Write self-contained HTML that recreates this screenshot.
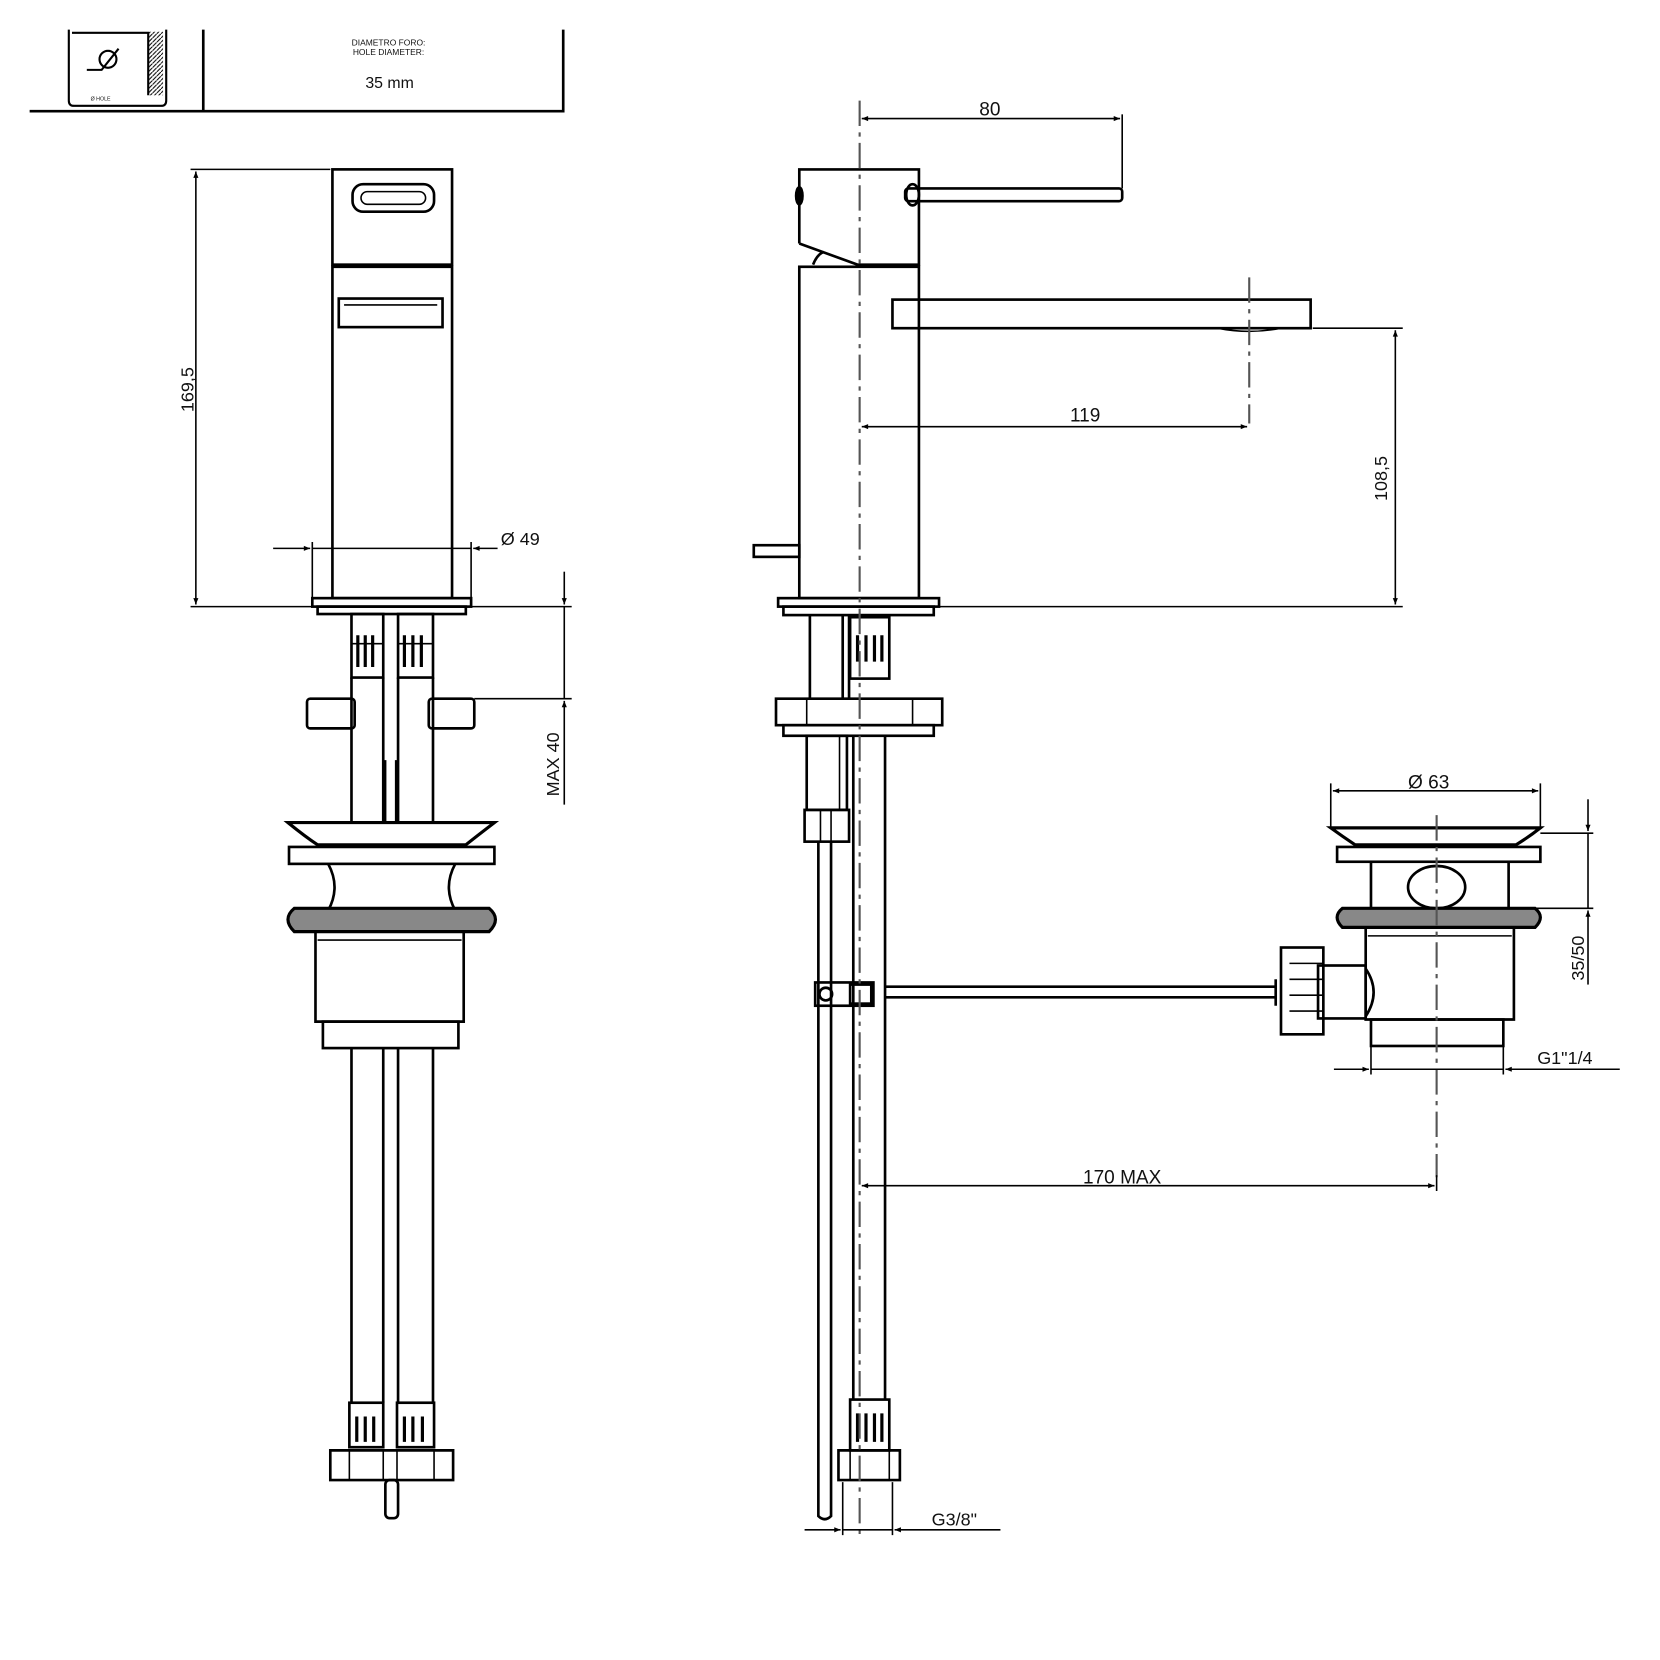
<!DOCTYPE html>
<html><head><meta charset="utf-8"><style>
html,body{margin:0;padding:0;background:#fff;width:1660px;height:1660px;overflow:hidden}
svg{display:block}
text{font-family:"Liberation Sans",sans-serif;fill:#111}
</style></head><body>
<svg width="1660" height="1660" viewBox="0 0 1568 1568" xmlns="http://www.w3.org/2000/svg">
<defs>
<marker id="a" viewBox="0 0 10 10" refX="10" refY="5" markerWidth="14" markerHeight="6" orient="auto-start-reverse" markerUnits="userSpaceOnUse"><path d="M0,1 L10,5 L0,9 z" fill="#000"/></marker>
<pattern id="h" width="4" height="4" patternUnits="userSpaceOnUse"><path d="M0,4 L4,0" stroke="#000" stroke-width="1"/></pattern>
</defs>
<g fill="none" stroke="#000" stroke-width="2.5">
<!-- top box -->
<path d="M28,105 H532 V28"/><path d="M192,28 V105"/>
<path d="M65,28 V95 Q65,100 70,100 H152 Q157,100 157,95 V28" stroke-width="2"/>
<rect x="140" y="30" width="14" height="60" fill="url(#h)" stroke="none"/>
<path d="M68,31 H140 V90" stroke-width="2"/>
<circle cx="102" cy="56" r="8" stroke-width="2"/><path d="M82,66 H96 L112,46" stroke-width="2"/>
</g>
<text x="367" y="43" font-size="8" text-anchor="middle">DIAMETRO FORO:</text>
<text x="367" y="52" font-size="8" text-anchor="middle">HOLE DIAMETER:</text>
<text x="368" y="83" font-size="15" text-anchor="middle">35 mm</text>
<text x="95" y="95" font-size="5" text-anchor="middle">Ø HOLE</text>

<!-- LEFT VIEW -->
<g fill="none" stroke="#000" stroke-width="2.5">
<rect x="314" y="160" width="113" height="90"/>
<rect x="333" y="174" width="77" height="26" rx="10"/><rect x="341" y="181" width="61" height="12" rx="6" stroke-width="1.5"/>
<rect x="314" y="252" width="113" height="313"/>
<rect x="320" y="282" width="98" height="27"/><path d="M325,288 H413" stroke-width="1.5"/>
<rect x="295" y="565" width="150" height="8"/><rect x="300" y="573" width="140" height="7"/>
<!-- tubes top -->
<rect x="332" y="580" width="30" height="60"/><rect x="376" y="580" width="33" height="60"/>
<g stroke-width="3"><path d="M338,600 V630 M345,600 V630 M352,600 V630 M382,600 V630 M390,600 V630 M398,600 V630"/></g>
<path d="M332,608 H362 M376,608 H409" stroke-width="1.5"/>
<path d="M332,640 V777 M362,640 V777 M376,640 V777 M409,640 V777"/>
<path d="M364,718 V777 M374,718 V777" stroke-width="2"/>
<rect x="290" y="660" width="45" height="28" rx="3"/><rect x="405" y="660" width="43" height="28" rx="3"/>
<!-- flange -->
<path d="M272,777 H467 Q450,790 440,798 H300 Q288,790 272,777 Z" fill="#fff" stroke-width="3"/>
<rect x="273" y="800" width="194" height="16"/>
<path d="M310,816 Q322,838 310,860 M430,816 Q418,838 430,860"/>
<path d="M278,858 H462 Q474,868 462,880 H278 Q266,868 278,858 Z" stroke-width="3" fill="#888"/>
<path d="M298,880 H438 V965 H298 Z"/><path d="M300,888 H436" stroke-width="1.5"/>
<rect x="305" y="965" width="128" height="25"/>
<!-- tubes bottom -->
<path d="M332,990 V1325 M362,990 V1325 M376,990 V1325 M409,990 V1325"/>
<rect x="330" y="1325" width="32" height="42"/><rect x="375" y="1325" width="35" height="42"/>
<g stroke-width="3"><path d="M337,1338 V1362 M345,1338 V1362 M353,1338 V1362 M382,1338 V1362 M390,1338 V1362 M399,1338 V1362"/></g>
<path d="M312,1370 H428 V1398 H312 Z"/><path d="M330,1370 V1398 M362,1370 V1398 M375,1370 V1398 M410,1370 V1398" stroke-width="1.5"/>
<rect x="364" y="1398" width="12" height="36" rx="4"/>
</g>
<!-- left dims -->
<g stroke="#000" stroke-width="1.5" fill="none">
<path d="M180,160 H312 M180,573 H295"/>
<path d="M185,162 V571" marker-start="url(#a)" marker-end="url(#a)"/>
<path d="M295,512 V565 M445,512 V565"/>
<path d="M258,518 H293" marker-end="url(#a)"/><path d="M295,518 H445"/><path d="M470,518 H447" marker-end="url(#a)"/>
<path d="M445,573 H540 M448,660 H540"/>
<path d="M533,540 V571" marker-end="url(#a)"/><path d="M533,573 V660"/><path d="M533,760 V662" marker-end="url(#a)"/>
</g>
<text transform="translate(183,368) rotate(-90)" font-size="17" text-anchor="middle">169,5</text>
<text x="473" y="515" font-size="17">Ø 49</text>
<text transform="translate(528,722) rotate(-90)" font-size="17" text-anchor="middle">MAX 40</text>

<!-- RIGHT VIEW -->
<g fill="none" stroke="#000" stroke-width="2.5">
<path d="M755,230 V160 H868 V250 H810 L755,230"/>
<path d="M768,250 Q772,240 778,238"/>
<ellipse cx="755" cy="185" rx="3" ry="8" fill="#000"/>
<rect x="855" y="178" width="205" height="12" rx="3"/><ellipse cx="862" cy="184" rx="6" ry="10"/>
<rect x="755" y="252" width="113" height="313"/>
<rect x="843" y="283" width="395" height="27"/>
<path d="M1150,310 Q1180,316 1210,310" stroke-width="1.5"/>
<rect x="712" y="515" width="43" height="11"/>
<rect x="735" y="565" width="152" height="8"/><rect x="740" y="573" width="142" height="8"/>
<path d="M765,581 V660 M796,581 V660 M802,581 V660"/>
<rect x="803" y="583" width="37" height="58"/>
<g stroke-width="3"><path d="M810,600 V625 M818,600 V625 M826,600 V625 M833,600 V625"/></g>
<path d="M733,660 H890 V685 H733 Z"/><path d="M762,660 V685 M862,660 V685" stroke-width="1.5"/>
<rect x="740" y="685" width="142" height="10"/>
<rect x="762" y="695" width="38" height="70"/><path d="M793,695 V765" stroke-width="1.5"/>
<rect x="760" y="765" width="42" height="30"/><path d="M775,765 V795 M785,765 V795" stroke-width="1.5"/>
<path d="M773,795 V1432 Q779,1438 785,1432 V795"/>
<path d="M806,695 V1322 M836,695 V1322"/>
<rect x="770" y="928" width="55" height="22"/><circle cx="780" cy="939" r="6"/><rect x="803" y="930" width="20" height="18"/>
<path d="M836,932 H1205 M836,942 H1205"/>
<rect x="803" y="1322" width="37" height="48"/>
<g stroke-width="3"><path d="M810,1335 V1362 M818,1335 V1362 M826,1335 V1362 M833,1335 V1362"/></g>
<path d="M792,1370 H850 V1398 H792 Z"/><path d="M803,1370 V1398 M840,1370 V1398" stroke-width="1.5"/>
<!-- drain -->
<path d="M1257,782 H1455 Q1445,790 1432,798 H1280 Q1268,790 1257,782 Z" fill="#fff" stroke-width="3"/>
<rect x="1263" y="800" width="192" height="14"/>
<path d="M1295,814 V858 M1425,814 V858"/>
<ellipse cx="1357" cy="838" rx="27" ry="20"/>
<path d="M1268,858 H1450 Q1460,866 1450,876 H1268 Q1258,866 1268,858 Z" fill="#888" stroke-width="3"/>
<path d="M1290,876 H1430 V963 H1290 Z"/><path d="M1292,884 H1428" stroke-width="1.5"/>
<rect x="1295" y="963" width="125" height="25"/>
<path d="M1290,915 Q1305,937 1290,960" />
<rect x="1245" y="912" width="45" height="50"/>
<rect x="1210" y="895" width="40" height="82"/>
<path d="M1218,910 H1250 M1218,925 H1250 M1218,940 H1250 M1218,955 H1250" stroke-width="1.5"/>
<path d="M1205,925 V950"/>
</g>
<!-- centerlines -->
<g stroke="#555" stroke-width="2" stroke-dasharray="24,6,4,6" fill="none">
<path d="M812,95 V1450"/><path d="M1180,262 V400"/><path d="M1357,770 V1112"/>
</g>
<!-- right dims -->
<g stroke="#000" stroke-width="1.5" fill="none">
<path d="M1060,108 V178"/>
<path d="M814,112 H1058" marker-start="url(#a)" marker-end="url(#a)"/>
<path d="M814,403 H1178" marker-start="url(#a)" marker-end="url(#a)"/>
<path d="M1240,310 H1325 M887,573 H1325"/>
<path d="M1318,312 V571" marker-start="url(#a)" marker-end="url(#a)"/>
<path d="M814,1120 H1355" marker-start="url(#a)" marker-end="url(#a)"/><path d="M1357,1110 V1125"/>
<path d="M1257,740 V782 M1455,740 V782"/>
<path d="M1259,747 H1453" marker-start="url(#a)" marker-end="url(#a)"/>
<path d="M1455,787 H1505 M1450,858 H1505"/>
<path d="M1500,755 V785" marker-end="url(#a)"/><path d="M1500,787 V858"/><path d="M1500,930 V860" marker-end="url(#a)"/>
<path d="M1295,988 V1015 M1420,988 V1015"/>
<path d="M1260,1010 H1293" marker-end="url(#a)"/><path d="M1295,1010 H1420"/><path d="M1530,1010 H1422" marker-end="url(#a)"/>
<path d="M796,1400 V1450 M843,1400 V1450"/>
<path d="M760,1445 H794" marker-end="url(#a)"/><path d="M796,1445 H843"/><path d="M945,1445 H845" marker-end="url(#a)"/>
</g>
<text x="935" y="109" font-size="18" text-anchor="middle">80</text>
<text x="1025" y="398" font-size="18" text-anchor="middle">119</text>
<text transform="translate(1310,452) rotate(-90)" font-size="17" text-anchor="middle">108,5</text>
<text x="1060" y="1118" font-size="18" text-anchor="middle">170 MAX</text>
<text x="1330" y="745" font-size="18">Ø 63</text>
<text transform="translate(1496,905) rotate(-90)" font-size="17" text-anchor="middle">35/50</text>
<text x="1452" y="1005" font-size="17">G1"1/4</text>
<text x="880" y="1441" font-size="17">G3/8"</text>
</svg>
</body></html>
